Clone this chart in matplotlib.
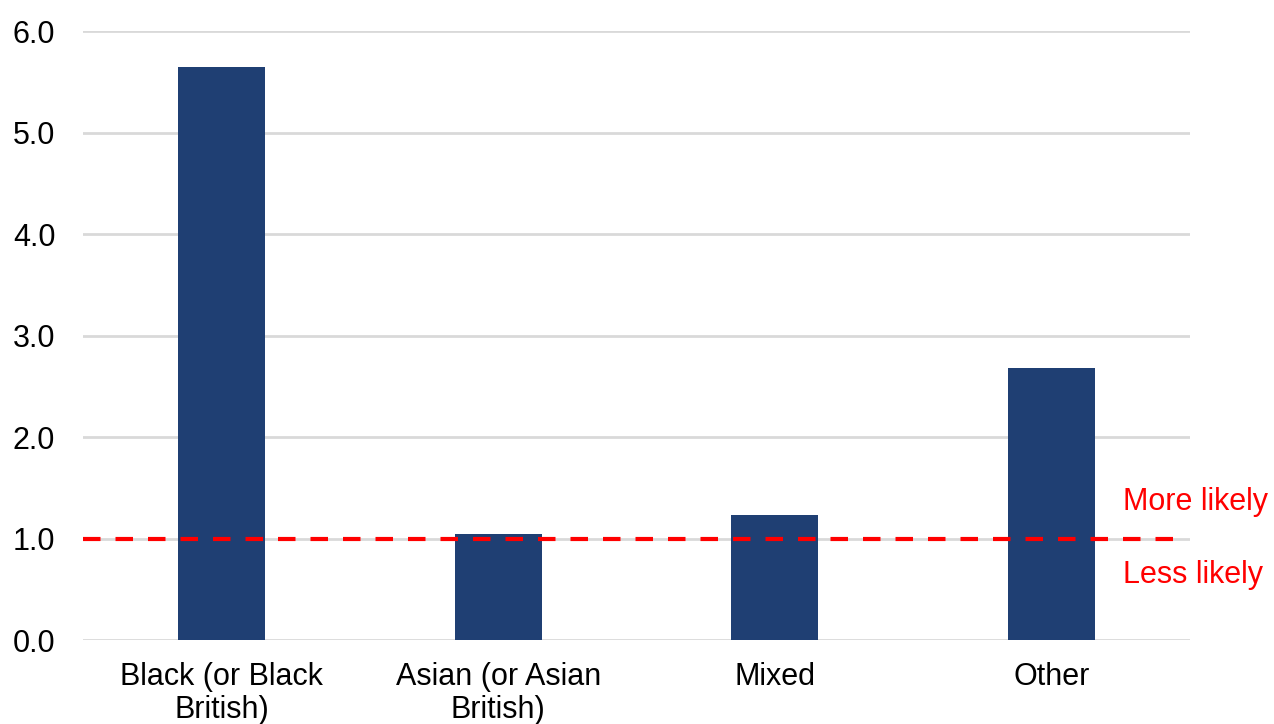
import matplotlib
matplotlib.use("Agg")
import matplotlib.pyplot as plt
import numpy as np

categories = ["Black (or Black\nBritish)", "Asian (or Asian\nBritish)", "Mixed", "Other"]
values = [5.65, 1.04, 1.23, 2.68]
yticks = [0.0, 1.0, 2.0, 3.0, 4.0, 5.0, 6.0]
baseline = 1.0

plt.rcParams['font.family'] = ['Liberation Sans', 'DejaVu Sans']

fig = plt.figure(figsize=(12.74, 7.24), dpi=100)
ax = fig.add_axes([0.0652, 0.116, 0.8688, 0.841])

x = np.arange(len(categories))
ax.bar(x, values, width=0.315, color='#1F3F73', zorder=3)
ax.axhline(baseline, color='#FF0000', lw=3, dashes=(4.2, 3.6), xmin=0, xmax=0.99, zorder=4)

ax.set_xlim(-0.5, len(categories) - 0.5)
ax.set_ylim(0, 6)
ax.set_yticks(yticks)
ax.set_yticklabels([f"{t:.1f}" for t in yticks], fontsize=22)
ax.set_xticks(x)
ax.set_xticklabels(categories, fontsize=22, linespacing=1.12)
ax.tick_params(axis='y', length=0, pad=20, colors='#000000')
ax.tick_params(axis='x', length=0, pad=16)
ax.yaxis.grid(True, color='#D9D9D9', lw=2, zorder=0)
ax.set_axisbelow(True)
for s in ax.spines.values():
    s.set_visible(False)

tr = ax.get_yaxis_transform()
ax.text(0.9395, 1.36, "More likely", transform=tr, color='#FF0000',
        fontsize=22, ha='left', va='center', clip_on=False)
ax.text(0.9395, 0.64, "Less likely", transform=tr, color='#FF0000',
        fontsize=22, ha='left', va='center', clip_on=False)

fig.savefig("out.png", dpi=100)
